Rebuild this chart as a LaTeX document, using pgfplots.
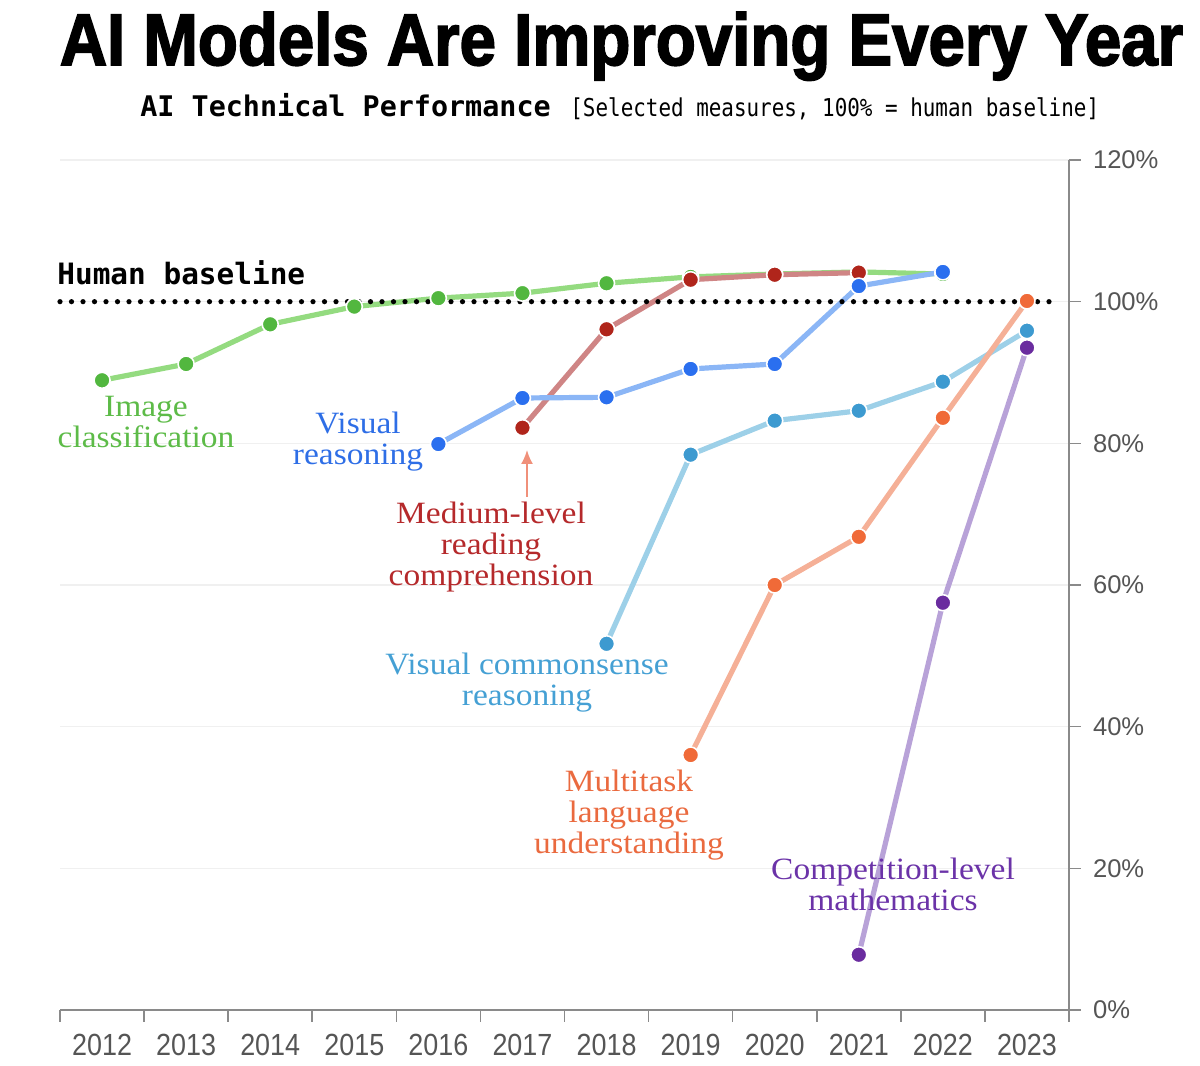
\documentclass[border=0pt]{standalone}
\usepackage{pgfplots}
\pgfplotsset{compat=1.18}
\usetikzlibrary{arrows.meta}
\usepackage{fontspec}
\setmainfont{Liberation Serif}
\newfontfamily\heavyfont{Liberation Sans}[BoldFeatures={FakeBold=2.5}]
\newfontfamily\monofont{DejaVu Sans Mono}
\newfontfamily\tickfont{Liberation Sans}

\definecolor{gmark}{HTML}{52B73F}
\definecolor{gline}{HTML}{94DB80}
\definecolor{gtext}{HTML}{5DBB48}
\definecolor{bmark}{HTML}{2A6FEF}
\definecolor{bline}{HTML}{8BB6F6}
\definecolor{btext}{HTML}{2E6EE6}
\definecolor{rmark}{HTML}{B0251B}
\definecolor{rline}{HTML}{CF8585}
\definecolor{rtext}{HTML}{B5292B}
\definecolor{cmark}{HTML}{3D9AD0}
\definecolor{cline}{HTML}{9DD0E8}
\definecolor{ctext}{HTML}{45A0D4}
\definecolor{omark}{HTML}{F06A38}
\definecolor{oline}{HTML}{F5B097}
\definecolor{otext}{HTML}{EA6A3F}
\definecolor{pmark}{HTML}{6A2C9F}
\definecolor{pline}{HTML}{B8A2D8}
\definecolor{ptext}{HTML}{6B33A8}
\definecolor{arrowc}{HTML}{F0907A}
\definecolor{axisgray}{HTML}{8A8A8A}
\definecolor{gridgray}{HTML}{F0F0F0}
\definecolor{ticktext}{HTML}{555555}

\pgfplotsset{
  ser/.style n args={2}{line width=2.6pt, color=#1, mark=*, mark size=4.0pt,
    mark options={fill=#2, draw=white, line width=0.8pt, solid}},
}

\newcommand{\xl}[1]{\scalebox{0.88}[1]{\fontsize{15.3}{16}\selectfont #1}}
\newcommand{\lbl}[5]{\node[text=#1, align=center, font=\fontsize{15.5}{15.5}\selectfont, inner sep=0pt, xscale=1.08, transform shape] at ({#2*0.5pt},{(1066-#3)*0.5pt}) {#4};}

\begin{document}
\begin{tikzpicture}
\path[use as bounding box] (0,0) rectangle (600pt,533pt);

\begin{axis}[
  at={(30pt,28pt)}, anchor=south west, scale only axis,
  width=504.5pt, height=425pt,
  xmin=2011.5, xmax=2023.5, ymin=0, ymax=120,
  axis y line*=right, axis x line*=bottom,
  axis line style={draw=axisgray, line width=0.9pt},
  xtick={2011.5,2012.5,...,2023.5}, xticklabels={},
  extra x ticks={2012,2013,2014,2015,2016,2017,2018,2019,2020,2021,2022,2023},
  extra x tick labels={\xl{2012},\xl{2013},\xl{2014},\xl{2015},\xl{2016},\xl{2017},\xl{2018},\xl{2019},\xl{2020},\xl{2021},\xl{2022},\xl{2023}},
  extra x tick style={major tick length=0pt, xticklabel style={yshift=-8.5pt}},
  ytick={0,20,40,60,80,100,120},
  yticklabels={0\%,20\%,40\%,60\%,80\%,100\%,120\%},
  tick align=outside, major tick length=6pt,
  tick style={draw=axisgray, line width=0.8pt},
  ymajorgrids, grid style={draw=gridgray, line width=0.7pt},
  ticklabel style={font=\tickfont\fontsize{12.8}{14}\selectfont, text=ticktext},
  yticklabel style={xshift=2.5pt},
  clip=false,
]
% Image classification
\addplot[ser={gline}{gmark}] coordinates {
(2012,88.9) (2013,91.2) (2014,96.8) (2015,99.3) (2016,100.5) (2017,101.2)
(2018,102.6) (2019,103.5) (2020,103.9) (2021,104.2) (2022,103.9)};
% Medium-level reading comprehension
\addplot[ser={rline}{rmark}] coordinates {
(2017,82.2) (2018,96.1) (2019,103.1) (2020,103.8) (2021,104.1)};
% Visual reasoning
\addplot[ser={bline}{bmark}] coordinates {
(2016,79.9) (2017,86.4) (2018,86.5) (2019,90.5) (2020,91.2) (2021,102.2) (2022,104.2)};
% Visual commonsense reasoning
\addplot[ser={cline}{cmark}] coordinates {
(2018,51.7) (2019,78.4) (2020,83.2) (2021,84.6) (2022,88.7) (2023,95.9)};
% Multitask language understanding
\addplot[ser={oline}{omark}] coordinates {
(2019,36.0) (2020,60.0) (2021,66.8) (2022,83.6) (2023,100.1)};
% Competition-level mathematics
\addplot[ser={pline}{pmark}] coordinates {
(2021,7.8) (2022,57.5) (2023,93.5)};
% Human baseline
\addplot[black, line width=2.6pt, line cap=round, dash pattern=on 0pt off 5.75pt] coordinates {(2011.5,100) (2023.37,100)};
\end{axis}

% Title
\node[anchor=base, inner sep=0pt] at (310.75pt,500.5pt)
  {\resizebox{561.5pt}{26.5pt}{\heavyfont\bfseries AI Models Are Improving Every Year}};
% Subtitle
\node[anchor=base west, inner sep=0pt] at (70pt,474.5pt)
  {\monofont\bfseries\fontsize{14.2}{15}\selectfont AI Technical Performance};
\node[anchor=base west, inner sep=0pt] at (285pt,474.5pt)
  {\scalebox{0.85}[1]{\monofont\fontsize{12.3}{13}\selectfont [Selected measures, 100\% = human baseline]}};
% Human baseline label
\node[anchor=base west, inner sep=0pt] at (28.5pt,390.5pt)
  {\monofont\bfseries\fontsize{14.7}{15}\selectfont Human baseline};

% Series labels
\lbl{gtext}{146}{422}{Image\\classification}{}
\lbl{btext}{358}{442}{Visual\\reasoning}{}
\lbl{rtext}{491}{547}{Medium-level\\reading\\comprehension}{}
\lbl{ctext}{527}{683}{Visual commonsense\\reasoning}{}
\lbl{otext}{629}{815}{Multitask\\language\\understanding}{}
\lbl{ptext}{893}{884}{Competition-level\\mathematics}{}

% Arrow
\draw[arrowc, line width=0.9pt, -{Latex[length=7pt,width=6pt]}] (263.5pt,{(1066-497)*0.5pt}) -- (263.5pt,{(1066-450)*0.5pt});
\end{tikzpicture}
\end{document}
